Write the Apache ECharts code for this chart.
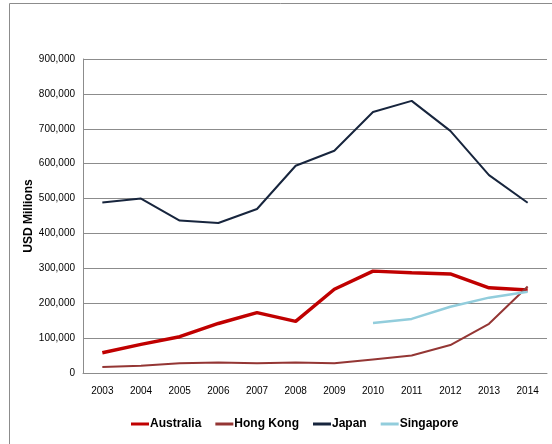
<!DOCTYPE html>
<html>
<head>
<meta charset="utf-8">
<script src="https://cdn.jsdelivr.net/npm/echarts@6/dist/echarts.min.js"></script>
<style>
  html, body { margin: 0; padding: 0; background: #fff; }
  #chart { width: 552px; height: 444px; }
</style>
</head>
<body>
<div id="chart"></div>
<script>
const years = ["2003", "2004", "2005", "2006", "2007", "2008", "2009", "2010", "2011", "2012", "2013", "2014"];
const australia = [58000, 82000, 104000, 142000, 173000, 148000, 240000, 292000, 287000, 284000, 244000, 238000];
const hongKong = [17000, 21000, 28000, 30000, 28000, 30000, 28000, 39000, 50000, 80000, 141000, 248000];
const japan = [489000, 500000, 437000, 430000, 470000, 594000, 637000, 748000, 780000, 694000, 567000, 488000];
const singapore = [null, null, null, null, null, null, null, 143000, 155000, 190000, 216000, 233000];

const font = '"Liberation Sans Narrow", "Liberation Sans", Arial, sans-serif';

const chart = echarts.init(document.getElementById("chart"));

function line(name, data, color, width) {
  return {
    name: name,
    type: "line",
    data: data,
    symbol: "none",
    lineStyle: { color: color, width: width },
    itemStyle: { color: color },
    connectNulls: false
  };
}

chart.setOption({
  animation: false,
  graphic: [
    {
      type: "polyline",
      shape: { points: [[9.5, 444], [9.5, 3.5], [552, 3.5]] },
      style: { stroke: "#8c8c8c", lineWidth: 1, fill: null }
    }
  ],
  grid: { left: 83, right: 5, top: 59, bottom: 71 },
  legend: {
    bottom: 9,
    left: 126,
    itemWidth: 18,
    itemHeight: 3,
    itemGap: 14,
    icon: "rect",
    textStyle: { fontFamily: font, fontWeight: "bold", fontSize: 12, color: "#000", padding: [0, 0, 0, -4] },
    data: ["Australia", "Hong Kong", "Japan", "Singapore"]
  },
  xAxis: {
    type: "category",
    data: years,
    boundaryGap: true,
    axisLine: { lineStyle: { color: "#8c8c8c" } },
    axisTick: { show: false },
    axisLabel: { fontFamily: font, fontSize: 10, color: "#000", margin: 13 }
  },
  yAxis: {
    type: "value",
    min: 0,
    max: 900000,
    interval: 100000,
    name: "USD Millions",
    nameLocation: "middle",
    nameGap: 48,
    nameMoveOverlap: false,
    nameTextStyle: { fontFamily: font, fontWeight: "bold", fontSize: 12, color: "#000" },
    axisLine: { show: true, lineStyle: { color: "#8c8c8c" } },
    axisTick: { show: false },
    splitLine: { lineStyle: { color: "#8c8c8c", width: 1 } },
    axisLabel: {
      fontFamily: font,
      fontSize: 10,
      color: "#000",
      margin: 8,
      formatter: v => v.toLocaleString("en-US")
    }
  },
  series: [
    line("Australia", australia, "#c00000", 3.5),
    line("Hong Kong", hongKong, "#943634", 2),
    line("Japan", japan, "#17253d", 2),
    line("Singapore", singapore, "#92cddc", 2.5)
  ]
});
</script>
</body>
</html>
